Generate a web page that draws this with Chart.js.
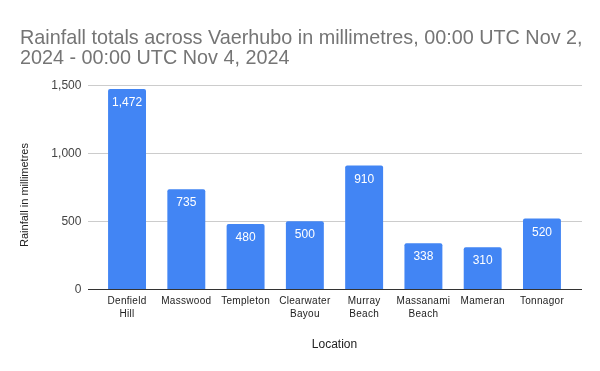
<!DOCTYPE html>
<html><head><meta charset="utf-8">
<script src="https://cdn.jsdelivr.net/npm/chart.js@4"></script>
<style>html,body{margin:0;padding:0;background:#fff}#wrap{width:600px;height:371px}</style>
</head><body><div id="wrap"><canvas id="c" width="600" height="371"></canvas></div>
<script>
const titleLines = ['Rainfall totals across Vaerhubo in millimetres, 00:00 UTC Nov 2,', '2024 - 00:00 UTC Nov 4, 2024'];
const categories = [['Denfield','Hill'],['Masswood'],['Templeton'],['Clearwater','Bayou'],['Murray','Beach'],['Massanami','Beach'],['Mameran'],['Tonnagor']];
const rainfall = [1472, 735, 480, 500, 910, 338, 310, 520];
const yTicks = [0, 500, 1000, 1500];
const xAxisTitle = 'Location';
const yAxisTitle = 'Rainfall in millimetres';

const fmt = v => Number(v).toLocaleString('en-US');
const FONT = 'Arial, "Liberation Sans", sans-serif';

const decor = {
  id: 'decor',
  afterLayout(chart) {
    const xs = chart.scales.x;
    if (!xs._lsPatched) {
      const orig = xs.drawLabels.bind(xs);
      xs.drawLabels = function (area) {
        const ctx = this.ctx;
        ctx.save();
        ctx.letterSpacing = '0.3px';
        orig(area);
        ctx.restore();
      };
      xs._lsPatched = true;
    }
  },
  beforeDatasetsDraw(chart) {
    const ctx = chart.ctx, y = chart.scales.y;
    ctx.save();
    ctx.strokeStyle = '#cccccc';
    ctx.lineWidth = 1;
    yTicks.forEach(t => {
      if (t === 0) return;
      const py = Math.round(y.getPixelForValue(t)) + 0.5;
      ctx.beginPath(); ctx.moveTo(88, py); ctx.lineTo(582, py); ctx.stroke();
    });
    ctx.restore();
  },
  afterDatasetsDraw(chart) {
    const ctx = chart.ctx, y = chart.scales.y;
    ctx.save();
    const py = Math.floor(y.getPixelForValue(0)) + 0.5;
    ctx.strokeStyle = '#333333';
    ctx.lineWidth = 1;
    ctx.beginPath(); ctx.moveTo(88, py); ctx.lineTo(582, py); ctx.stroke();
    const meta = chart.getDatasetMeta(0);
    ctx.fillStyle = '#ffffff';
    ctx.font = '12px ' + FONT;
    ctx.textAlign = 'center';
    ctx.textBaseline = 'alphabetic';
    meta.data.forEach((el, i) => {
      ctx.fillText(fmt(rainfall[i]), el.x, el.y + 17);
    });
    ctx.restore();
  },
  afterDraw(chart) {
    const ctx = chart.ctx, a = chart.chartArea;
    ctx.save();
    ctx.fillStyle = '#757575';
    ctx.font = '19.8px ' + FONT;
    ctx.textAlign = 'left';
    ctx.textBaseline = 'alphabetic';
    ctx.fillText(titleLines[0], 20, 44);
    ctx.fillText(titleLines[1], 20, 63.5);
    ctx.fillStyle = '#222222';
    ctx.font = '12px ' + FONT;
    ctx.textAlign = 'center';
    ctx.textBaseline = 'middle';
    ctx.fillText(xAxisTitle, (a.left + a.right) / 2, 345);
    ctx.translate(25, 195);
    ctx.rotate(-Math.PI / 2);
    ctx.font = '11px ' + FONT;
    ctx.fillText(yAxisTitle, 0, 0);
    ctx.restore();
  }
};

new Chart(document.getElementById('c'), {
  type: 'bar',
  data: {
    labels: categories,
    datasets: [{
      data: rainfall,
      backgroundColor: '#4285F4',
      barPercentage: 0.64,
      categoryPercentage: 1,
      borderRadius: 2
    }]
  },
  options: {
    responsive: false,
    animation: false,
    devicePixelRatio: 1,
    layout: { padding: { left: 20, right: 28.4, top: 85.3, bottom: 0 } },
    plugins: { legend: { display: false }, title: { display: false }, tooltip: { enabled: false } },
    scales: {
      x: {
        grid: { display: false, drawTicks: false }, border: { display: false },
        ticks: { font: { family: FONT, size: 10, lineHeight: 1.3 }, color: '#222', padding: 5, maxRotation: 0, autoSkip: false },
        afterFit(s) { s.height = 371 - 289.3; }
      },
      y: {
        min: 0, max: 1500,
        grid: { display: false, drawTicks: false }, border: { display: false },
        ticks: { stepSize: 500, callback: v => fmt(v), font: { family: FONT, size: 12 }, color: '#444', padding: 16 },
        afterFit(s) { s.width = 97.4 - 20; }
      }
    }
  },
  plugins: [decor]
});
</script></body></html>
